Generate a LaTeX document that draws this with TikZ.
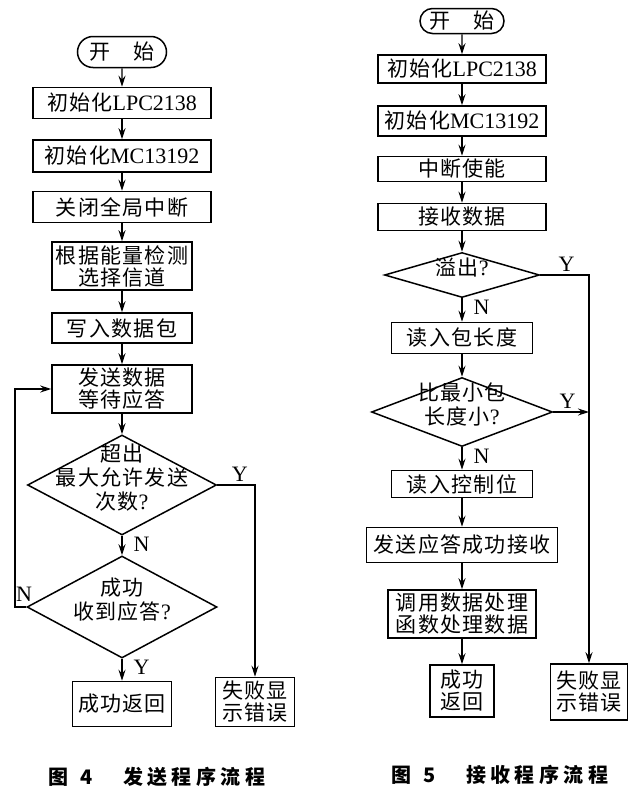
\documentclass[tikz,border=0pt]{standalone}
\usepackage{fontspec}
\setmainfont{Liberation Serif}
\newfontfamily\cjk{Noto Sans CJK SC}[LetterSpace=6]
\usetikzlibrary{shapes.geometric,shapes.misc,arrows.meta}
\newcommand{\dtext}[1]{\smash{\makebox[0pt]{\begin{tabular}{@{}c@{}}#1\end{tabular}}}}
\newcommand{\lat}[1]{{\rmfamily\fontsize{22}{22}\selectfont #1}}

\begin{document}
\begin{tikzpicture}[x=1pt,y=-1pt,
  every node/.style={font=\cjk\fontsize{21}{22}\selectfont},
  box/.style={draw, line width=1.5pt, inner sep=0pt, align=center},
  term/.style={rounded rectangle, draw, line width=1.5pt, inner sep=0pt},
  test/.style={diamond, draw, line width=1.5pt, inner sep=0pt},
  flow/.style={line width=1.2pt, -{Stealth[length=11pt,width=7pt]}},
  yn/.style={font=\rmfamily\fontsize{22}{22}\selectfont, inner sep=1pt},
  caption/.style={font=\cjk\bfseries\fontsize{20}{22}\selectfont\addfontfeature{LetterSpace=22}}]
  \useasboundingbox (0,0) rectangle (641,795);

  % send flow
  \node[term, minimum width=89pt, minimum height=31pt] (s1) at (122,52) {开\hspace{1.1em}始};
  \node[box, minimum width=178pt, minimum height=31pt] (p1) at (122,103) {初始化\lat{LPC2138}};
  \node[box, minimum width=178pt, minimum height=32pt] (p2) at (122,156) {初始化\lat{MC13192}};
  \node[box, minimum width=178pt, minimum height=31pt] (p3) at (122,207) {关闭全局中断};
  \node[box, minimum width=140pt, minimum height=48pt] (p4) at (122,266) {根据能量检测\\选择信道};
  \node[box, minimum width=140pt, minimum height=30pt] (p5) at (122,328) {写入数据包};
  \node[box, minimum width=140pt, minimum height=48pt] (p6) at (122,389) {发送数据\\等待应答};
  \node[test, minimum width=189pt, minimum height=100pt] (d1) at (122,485)
    {\dtext{超出\\最大允许发送\\次数\lat{?}}};
  \node[test, minimum width=190pt, minimum height=102pt] (d2) at (122,607)
    {\dtext{成功\\收到应答\lat{?}}};
  \node[box, minimum width=99pt, minimum height=45pt] (ok1) at (122,704) {成功返回};
  \node[box, minimum width=79pt, minimum height=49pt] (f1) at (255,702) {失败显\\示错误};
  \coordinate (lp) at (15,607);

  \draw[flow] (s1) -- (p1);
  \draw[flow] (p1) -- (p2);
  \draw[flow] (p2) -- (p3);
  \draw[flow] (p3) -- (p4);
  \draw[flow] (p4) -- (p5);
  \draw[flow] (p5) -- (p6);
  \draw[flow] (p6) -- (d1);
  \draw[flow] (d1) -- node[yn, right=10pt, pos=0.45]{N} (d2);
  \draw[flow] (d2) -- node[yn, right=10pt, pos=0.4]{Y} (ok1);
  \draw[flow] (d1.east) -| node[yn, above=2pt, pos=0.3]{Y} (f1.north);
  \draw[flow] (d2.west) -- node[yn, above=4pt, pos=0.2]{N} (lp) |- (p6.west);

  % receive flow
  \node[term, minimum width=84pt, minimum height=25pt] (s2) at (462,21) {开\hspace{1.1em}始};
  \node[box, minimum width=168pt, minimum height=28pt] (q1) at (462,69) {初始化\lat{LPC2138}};
  \node[box, minimum width=168pt, minimum height=30pt] (q2) at (462,121) {初始化\lat{MC13192}};
  \node[box, minimum width=168pt, minimum height=25pt] (q3) at (462,169) {中断使能};
  \node[box, minimum width=168pt, minimum height=27pt] (q4) at (462,217) {接收数据};
  \node[test, minimum width=155pt, minimum height=45pt] (e1) at (462,275) {\dtext{溢出\lat{?}}};
  \node[box, minimum width=141pt, minimum height=31pt] (q5) at (462,338) {读入包长度};
  \node[test, minimum width=181pt, minimum height=69pt] (e2) at (462,412)
    {\dtext{比最小包\\长度小\lat{?}}};
  \node[box, minimum width=141pt, minimum height=27pt] (q6) at (462,484) {读入控制位};
  \node[box, minimum width=191pt, minimum height=35pt] (q7) at (462,545) {发送应答成功接收};
  \node[box, minimum width=148pt, minimum height=48pt] (q8) at (462,614) {调用数据处理\\函数处理数据};
  \node[box, minimum width=64pt, minimum height=52pt] (ok2) at (462,691) {成功\\返回};
  \node[box, minimum width=77pt, minimum height=56pt] (f2) at (589,692) {失败显\\示错误};

  \draw[flow] (s2) -- (q1);
  \draw[flow] (q1) -- (q2);
  \draw[flow] (q2) -- (q3);
  \draw[flow] (q3) -- (q4);
  \draw[flow] (q4) -- (e1);
  \draw[flow] (e1) -- node[yn, right=10pt, pos=0.4]{N} (q5);
  \draw[flow] (q5) -- (e2);
  \draw[flow] (e2) -- node[yn, right=10pt, pos=0.4]{N} (q6);
  \draw[flow] (q6) -- (q7);
  \draw[flow] (q7) -- (q8);
  \draw[flow] (q8) -- (ok2);
  \draw[flow] (e1.east) -| node[yn, above=2pt, pos=0.27]{Y} (f2.north);
  \draw[flow] (e2.east) -- node[yn, above=2pt, pos=0.4]{Y} (e2.east -| f2.north);

  \node[caption] (cap1) at (157,777) {图\hspace{0.6em}4\hspace{1.5em}发送程序流程};
  \node[caption] (cap2) at (500,775) {图\hspace{0.6em}5\hspace{1.5em}接收程序流程};
\end{tikzpicture}
\end{document}
